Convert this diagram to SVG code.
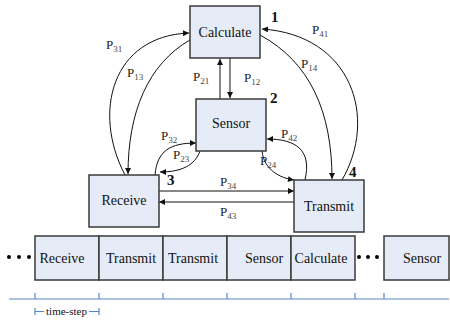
<svg xmlns="http://www.w3.org/2000/svg" width="450" height="324" viewBox="0 0 450 324">
<style>
text{font-family:"Liberation Serif","Times New Roman",Times,"DejaVu Serif","Noto Serif",serif}
.box{fill:#e6ecf7;stroke:#3a3a3a;stroke-width:1.5}
.lbl{font-size:14px;fill:#111}
.p{font-size:13px;fill:#222}
.sub{font-size:9px;fill:#444}
.num{font-size:15px;font-weight:bold;fill:#111}
.con{fill:none;stroke:#111;stroke-width:1}
.tl{stroke:#5a86c8;stroke-width:1.2;fill:none}
</style>
<defs>
<marker id="ah" viewBox="0 0 10 10" refX="10" refY="5" markerWidth="7" markerHeight="6" markerUnits="userSpaceOnUse" orient="auto">
<path d="M0,0 L10,5 L0,10 z" fill="#111"/>
</marker>
</defs>

<g id="connectors">
<path class="con" marker-end="url(#ah)" d="M125,175 C92,112 112,36 189,33"/>
<path class="con" marker-end="url(#ah)" d="M190,40 C148,64 128,112 128,174"/>
<path class="con" marker-end="url(#ah)" d="M342,180 C378,118 352,35 262,29"/>
<path class="con" marker-end="url(#ah)" d="M260,35 C310,62 332,112 332,179"/>
<path class="con" marker-end="url(#ah)" d="M220,99 L220,59"/>
<path class="con" marker-end="url(#ah)" d="M230,58 L230,98"/>
<path class="con" marker-end="url(#ah)" d="M155,175 C157,151 170,143 196,143"/>
<path class="con" marker-end="url(#ah)" d="M200,151 C195,165 182,172 160,172"/>
<path class="con" marker-end="url(#ah)" d="M305,180 C312,150 296,139 267,139"/>
<path class="con" marker-end="url(#ah)" d="M262,151 C264,170 280,178 294,180"/>
<path class="con" marker-end="url(#ah)" d="M159,191 L294,191"/>
<path class="con" marker-end="url(#ah)" d="M294,202 L159,202"/>
</g>

<g id="edge-labels">
<text class="p" x="106" y="49">P<tspan class="sub" dy="3">31</tspan></text>
<text class="p" x="127" y="77">P<tspan class="sub" dy="3">13</tspan></text>
<text class="p" x="193" y="81">P<tspan class="sub" dy="3">21</tspan></text>
<text class="p" x="244" y="82">P<tspan class="sub" dy="3">12</tspan></text>
<text class="p" x="312" y="34">P<tspan class="sub" dy="3">41</tspan></text>
<text class="p" x="301" y="68">P<tspan class="sub" dy="3">14</tspan></text>
<text class="p" x="161" y="140">P<tspan class="sub" dy="3">32</tspan></text>
<text class="p" x="173" y="159">P<tspan class="sub" dy="3">23</tspan></text>
<text class="p" x="281" y="138">P<tspan class="sub" dy="3">42</tspan></text>
<text class="p" x="260" y="165">P<tspan class="sub" dy="3">24</tspan></text>
<text class="p" x="220" y="186">P<tspan class="sub" dy="3">34</tspan></text>
<text class="p" x="220" y="216">P<tspan class="sub" dy="3">43</tspan></text>
</g>

<g id="node-calculate">
<rect class="box" x="190" y="6" width="70" height="52"/>
<text class="lbl" x="225" y="37" text-anchor="middle">Calculate</text>
<text class="num" x="271" y="22">1</text>
</g>
<g id="node-sensor">
<rect class="box" x="196" y="99" width="70" height="52"/>
<text class="lbl" x="231" y="128" text-anchor="middle">Sensor</text>
<text class="num" x="270" y="103">2</text>
</g>
<g id="node-receive">
<rect class="box" x="89" y="175" width="70" height="52"/>
<text class="lbl" x="124" y="205" text-anchor="middle">Receive</text>
<text class="num" x="167" y="185">3</text>
</g>
<g id="node-transmit">
<rect class="box" x="294" y="180" width="70" height="52"/>
<text class="lbl" x="329" y="211" text-anchor="middle">Transmit</text>
<text class="num" x="349" y="177">4</text>
</g>

<g id="timeline-row">
<circle cx="9" cy="257" r="2"/><circle cx="19" cy="257" r="2"/><circle cx="29" cy="257" r="2"/>
<rect class="box" x="35" y="236" width="64" height="44"/>
<text class="lbl" x="62" y="263" text-anchor="middle">Receive</text>
<rect class="box" x="99" y="236" width="64" height="44"/>
<text class="lbl" x="131" y="263" text-anchor="middle">Transmit</text>
<rect class="box" x="163" y="236" width="64" height="44"/>
<text class="lbl" x="193" y="263" text-anchor="middle">Transmit</text>
<rect class="box" x="227" y="236" width="64" height="44"/>
<text class="lbl" x="264" y="263" text-anchor="middle">Sensor</text>
<rect class="box" x="291" y="236" width="64" height="44"/>
<text class="lbl" x="321" y="263" text-anchor="middle">Calculate</text>
<circle cx="359" cy="257" r="2"/><circle cx="368" cy="257" r="2"/><circle cx="377" cy="257" r="2"/>
<rect class="box" x="384" y="236" width="65" height="44"/>
<text class="lbl" x="422" y="263" text-anchor="middle">Sensor</text>
</g>

<g id="time-axis">
<path class="tl" d="M9,299 L449,299 M35,293 L35,299 M99,293 L99,299 M163,293 L163,299 M227,293 L227,299 M291,293 L291,299 M355,293 L355,299 M384,293 L384,299"/>
<path class="tl" d="M35,308 L35,315 M35,311.5 L44,311.5 M89,311.5 L99,311.5 M99,308 L99,315"/>
<text x="66.5" y="315" text-anchor="middle" font-size="11" fill="#111">time-step</text>
</g>
</svg>
